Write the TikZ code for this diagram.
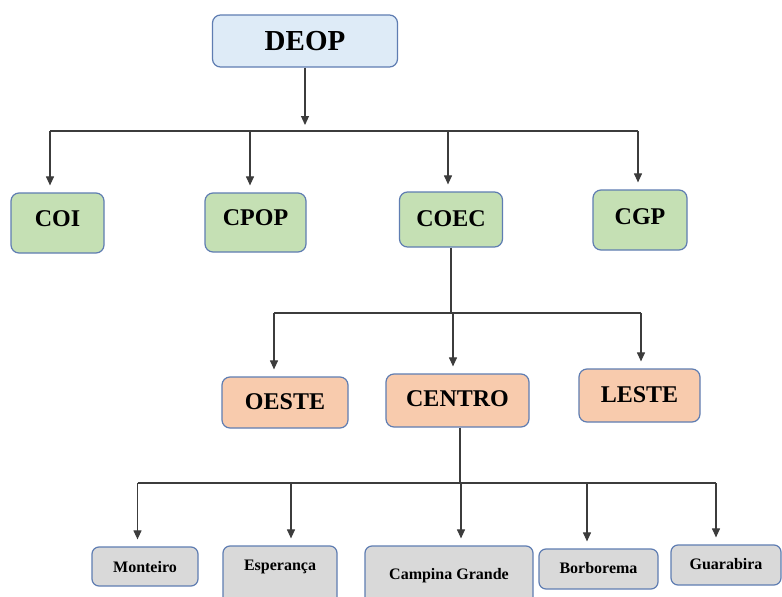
\documentclass[tikz,border=0pt]{standalone}
\usepackage{fontspec}
\setmainfont{Liberation Serif}
\usetikzlibrary{arrows.meta}
\definecolor{boxline}{RGB}{95,125,178}
\definecolor{deopfill}{RGB}{222,235,247}
\definecolor{coordfill}{RGB}{197,224,180}
\definecolor{regfill}{RGB}{248,203,173}
\definecolor{cityfill}{RGB}{217,217,217}
\definecolor{linegray}{RGB}{60,60,60}

\tikzset{
  box/.style={draw=boxline, line width=1.2pt, rounded corners=8pt, inner sep=0pt},
  deopbox/.style={box, fill=deopfill, font=\fontsize{29}{32}\selectfont\bfseries, text height=19pt, text depth=0pt},
  coordbox/.style={box, fill=coordfill, font=\fontsize{24}{28}\selectfont\bfseries, text height=16pt, text depth=0pt},
  regbox/.style={box, fill=regfill, font=\fontsize{24}{28}\selectfont\bfseries, text height=16pt, text depth=0pt},
  citybox/.style={box, fill=cityfill, rounded corners=7pt, font=\fontsize{16}{19}\selectfont\bfseries, text height=11pt, text depth=0pt},
  conn/.style={draw=linegray, line width=1.1pt},
  arr/.style={conn, -{Triangle[length=9pt,width=8pt]}, shorten >=7pt}
}

\begin{document}
\begin{tikzpicture}[x=1pt, y=-1pt]
\useasboundingbox (0,0) rectangle (782,597);
\clip (0,0) rectangle (782,597);
\fill[white] (0,0) rectangle (782,597);

% top
\node[deopbox, minimum width=185pt, minimum height=52pt] (deop) at (305,41) {DEOP};

% coordenacoes
\node[coordbox, minimum width=93pt, minimum height=60pt, text depth=10pt] (coi) at (57.5,223) {COI};
\node[coordbox, minimum width=101pt, minimum height=59pt, text depth=10pt] (cpop) at (255.5,222.5) {CPOP};
\node[coordbox, minimum width=103pt, minimum height=55pt, text depth=3pt] (coec) at (451,219.5) {COEC};
\node[coordbox, minimum width=94pt, minimum height=60pt, text depth=8pt] (cgp) at (640,220) {CGP};

% regioes
\node[regbox, minimum width=126pt, minimum height=51pt, text depth=3pt] (oeste) at (285,402.5) {OESTE};
\node[regbox, minimum width=143pt, minimum height=53pt, text depth=5pt] (centro) at (457.5,400.5) {CENTRO};
\node[regbox, minimum width=121pt, minimum height=53pt, text depth=3pt] (leste) at (639.5,395.5) {LESTE};

% cidades
\node[citybox, minimum width=106pt, minimum height=39pt] (monteiro) at (145,566.5) {Monteiro};
\node[citybox, minimum width=114pt, minimum height=66pt, text depth=28pt] (esperanca) at (280,579) {Esperança};
\node[citybox, minimum width=168pt, minimum height=66pt, text depth=10pt] (campina) at (449,579) {Campina Grande};
\node[citybox, minimum width=119pt, minimum height=40pt, text depth=3pt] (borborema) at (598.5,569) {Borborema};
\node[citybox, minimum width=110pt, minimum height=40pt, text depth=2pt] (guarabira) at (726,565) {Guarabira};

% DEOP -> coordenacoes
\coordinate (top) at (305,131);
\coordinate (t1) at (50,131);
\coordinate (t2) at (250,131);
\coordinate (t3) at (448,131);
\coordinate (t4) at (638,131);
\draw[arr, shorten >=6pt] (deop) -- (top);
\draw[conn] (t1) -- (t4);
\draw[arr] (t1) -- (t1 |- coi.north);
\draw[arr] (t2) -- (t2 |- cpop.north);
\draw[arr] (t3) -- (t3 |- coec.north);
\draw[arr] (t4) -- (t4 |- cgp.north);

% COEC -> regioes
\coordinate (mid) at (451,313);
\coordinate (m1) at (274,313);
\coordinate (m2) at (453,313);
\coordinate (m3) at (641,313);
\draw[conn] (coec) -- (mid);
\draw[conn] (m1) -- (m3);
\draw[arr] (m1) -- (m1 |- oeste.north);
\draw[arr] (m2) -- (m2 |- centro.north);
\draw[arr] (m3) -- (m3 |- leste.north);

% CENTRO -> cidades
\coordinate (bot) at (460,483);
\coordinate (c1) at (137.5,483);
\coordinate (c2) at (291,483);
\coordinate (c3) at (461,483);
\coordinate (c4) at (587,483);
\coordinate (c5) at (716,483);
\draw[conn] (bot |- centro.south) -- (bot);
\draw[conn] (c1) -- (c5);
\draw[arr] (c1) -- (c1 |- monteiro.north);
\draw[arr] (c2) -- (c2 |- esperanca.north);
\draw[arr] (c3) -- (c3 |- campina.north);
\draw[arr] (c4) -- (c4 |- borborema.north);
\draw[arr] (c5) -- (c5 |- guarabira.north);
\end{tikzpicture}
\end{document}
